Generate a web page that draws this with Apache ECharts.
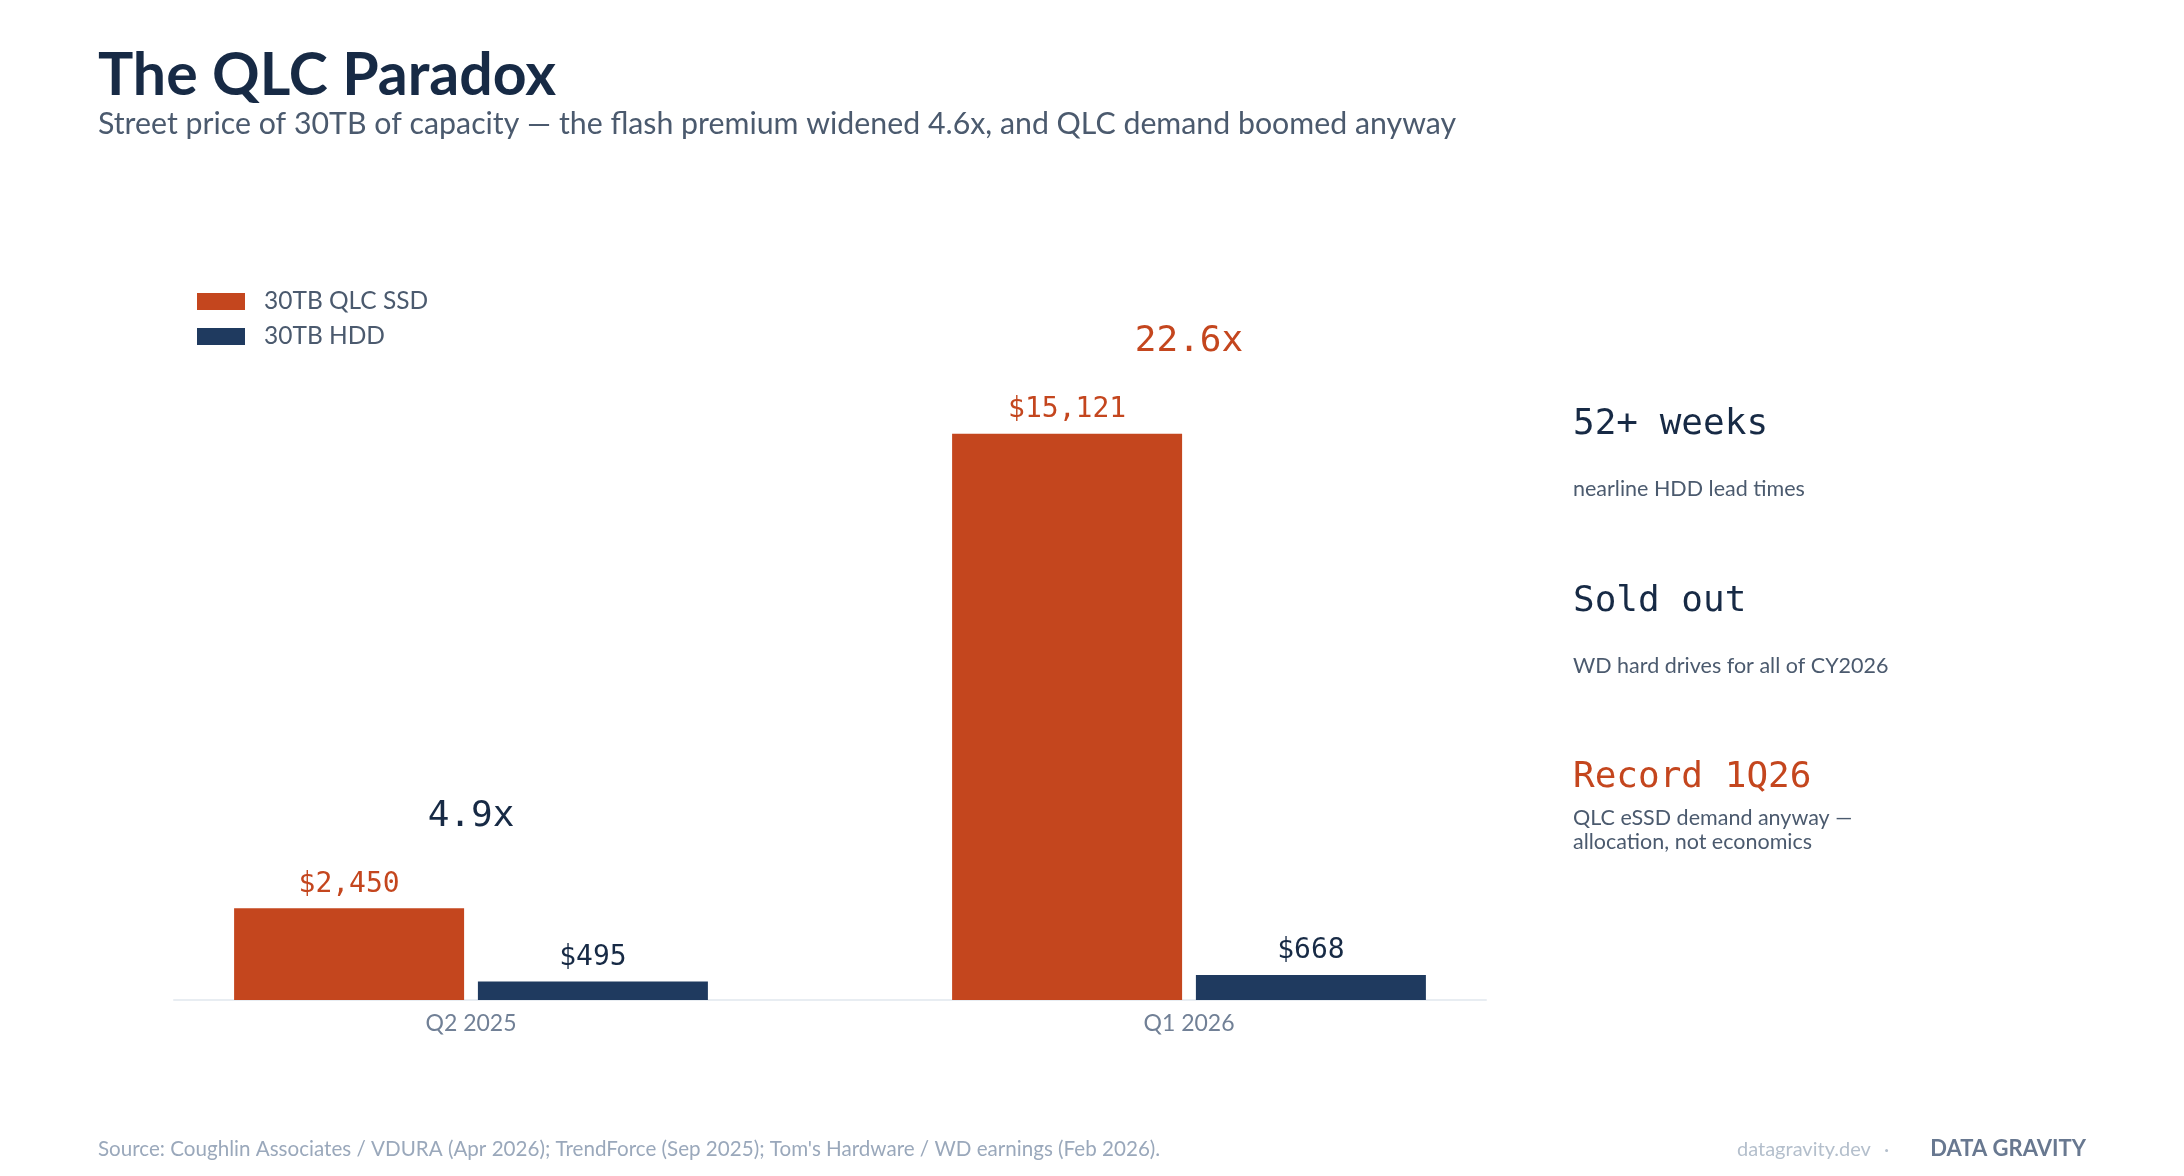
<!DOCTYPE html>
<html>
<head>
<meta charset="utf-8">
<title>The QLC Paradox</title>
<script src="https://cdn.jsdelivr.net/npm/echarts@6/dist/echarts.min.js"></script>
<style>
  html, body { margin: 0; padding: 0; background: #ffffff; }
  #chart { width: 2184px; height: 1176px; }
</style>
</head>
<body>
<div id="chart"></div>
<script>
// data
var quarters = ['Q2 2025', 'Q1 2026'];
var ssdPrice = [2450, 15121];   // 30TB QLC SSD, USD
var hddPrice = [495, 668];      // 30TB HDD, USD
var seriesNames = ['30TB QLC SSD', '30TB HDD'];

// side notes
var noteHeads = ['52+ weeks', 'Sold out', 'Record 1Q26'];
var noteTexts = ['nearline HDD lead times', 'WD hard drives for all of CY2026', 'QLC eSSD demand anyway —\nallocation, not economics'];

var ORANGE = '#C4461E';
var NAVY = '#1F3A5F';
var INK = '#172A45';
var GREY = '#4B5A6E';
var SANS = 'Lato, "Noto Sans", sans-serif';
var MONO = '"DejaVu Sans Mono", "Liberation Mono", monospace';

// premium ratio per quarter, biggest one in orange
var ratios = ssdPrice.map(function (v, i) { return v / hddPrice[i]; });
var maxRatio = Math.max.apply(null, ratios);
var ratioData = quarters.map(function (q, i) {
  return {
    value: Math.max(ssdPrice[i], hddPrice[i]),
    label: { color: ratios[i] === maxRatio ? ORANGE : INK }
  };
});

function money(v) {
  return '$' + v.toString().replace(/\B(?=(\d{3})+(?!\d))/g, ',');
}

var noteTops = [407, 584, 760];
var descTops = [477, 654, 806];
var notes = [];
for (var i = 0; i < noteHeads.length; i++) {
  notes.push({
    type: 'text', x: 1573, y: noteTops[i],
    style: { text: noteHeads[i], font: '36px ' + MONO, fill: i === 2 ? ORANGE : INK, verticalAlign: 'top' }
  });
  notes.push({
    type: 'text', x: 1573, y: descTops[i],
    style: { text: noteTexts[i], font: '21.5px ' + SANS, fill: GREY, lineHeight: 24, verticalAlign: 'top' }
  });
}

var myChart = echarts.init(document.getElementById('chart'));
myChart.setOption({
  animation: false,
  backgroundColor: '#ffffff',
  graphic: [
    { type: 'text', x: 98, y: 46, style: { text: 'The QLC Paradox', font: 'bold 59px ' + SANS, fill: INK, verticalAlign: 'top' } },
    { type: 'text', x: 98, y: 109, style: { text: 'Street price of 30TB of capacity — the flash premium widened 4.6x, and QLC demand boomed anyway', font: '30.3px ' + SANS, fill: GREY, verticalAlign: 'top' } },
    { type: 'text', x: 98, y: 1139, style: { text: 'Source: Coughlin Associates / VDURA (Apr 2026); TrendForce (Sep 2025); Tom\'s Hardware / WD earnings (Feb 2026).', font: '20.6px ' + SANS, fill: '#9AA8BB', verticalAlign: 'top' } },
    { type: 'text', x: 1737, y: 1140, style: { text: 'datagravity.dev', font: '20px ' + SANS, fill: '#B4BFCC', verticalAlign: 'top' } },
    { type: 'text', x: 1884, y: 1140, style: { text: '·', font: '20px ' + SANS, fill: '#B4BFCC', verticalAlign: 'top' } },
    { type: 'text', x: 2086, y: 1138, style: { text: 'DATA GRAVITY', font: 'bold 22px ' + SANS, fill: '#687890', align: 'right', verticalAlign: 'top' } }
  ].concat(notes),
  legend: {
    data: seriesNames,
    orient: 'vertical',
    left: 192,
    top: 284,
    itemWidth: 48,
    itemHeight: 17,
    itemGap: 10,
    icon: 'rect',
    textStyle: { fontFamily: SANS, fontSize: 24.5, color: GREY, padding: [0, 0, 0, 14] }
  },
  grid: [
    { left: 112, right: 636, top: 251, bottom: 176 },
    { left: 174, right: 698, top: 251, bottom: 176 }
  ],
  xAxis: [
    {
      type: 'category', gridIndex: 0, data: quarters,
      axisLine: { show: false }, axisTick: { show: false },
      axisLabel: { fontFamily: SANS, fontSize: 23, color: '#718096', margin: 12 }
    },
    {
      type: 'category', gridIndex: 1, data: [''],
      axisLine: { show: true, lineStyle: { color: '#E8EDF2', width: 2 } },
      axisTick: { show: false }, axisLabel: { show: false }
    }
  ],
  yAxis: [
    { type: 'value', gridIndex: 0, min: 0, max: 20000, show: false, splitLine: { show: false } },
    { type: 'value', gridIndex: 1, min: 0, max: 1, show: false, splitLine: { show: false } }
  ],
  series: [
    {
      name: seriesNames[0], type: 'bar', data: ssdPrice,
      barWidth: 230, barGap: '6%',
      itemStyle: { color: ORANGE },
      label: { show: true, position: 'top', distance: 10, formatter: function (p) { return money(p.value); }, fontFamily: MONO, fontSize: 28, color: ORANGE }
    },
    {
      name: seriesNames[1], type: 'bar', data: hddPrice,
      barWidth: 230, barGap: '6%',
      itemStyle: { color: NAVY },
      label: { show: true, position: 'top', distance: 10, formatter: function (p) { return money(p.value); }, fontFamily: MONO, fontSize: 28, color: INK }
    },
    {
      name: 'ratio', type: 'scatter', data: ratioData,
      symbolSize: 0, silent: true,
      itemStyle: { opacity: 1 },
      label: { show: true, position: 'top', distance: 74, fontFamily: MONO, fontSize: 36, opacity: 1,
        formatter: function (p) { return ratios[p.dataIndex].toFixed(1) + 'x'; } }
    }
  ]
});
</script>
</body>
</html>
